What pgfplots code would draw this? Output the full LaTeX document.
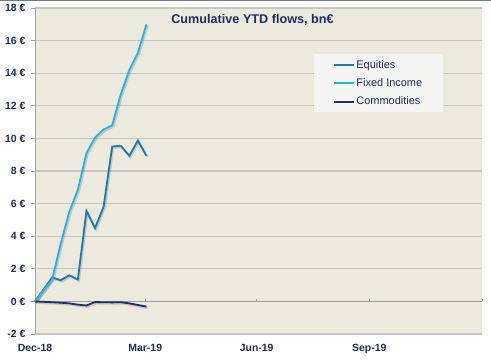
\documentclass[border=0pt]{standalone}
\usepackage{pgfplots}
\pgfplotsset{compat=1.18}
\usepackage{fontspec}
\setmainfont{Liberation Sans}
\newcommand{\eur}{\char"20AC\relax}
\definecolor{navy}{RGB}{31,45,92}
\definecolor{equ}{RGB}{30,122,172}
\definecolor{fix}{RGB}{34,182,228}
\definecolor{com}{RGB}{32,48,102}
\definecolor{bg}{RGB}{236,233,223}
\definecolor{gridc}{RGB}{200,198,190}
\definecolor{legbg}{RGB}{245,245,243}
\definecolor{topbar}{RGB}{112,125,150}
\pgfplotstableread{
d eq fi co
0 0 0 0
14 1.47 1.35 -0.05
21 1.30 3.55 -0.08
28 1.60 5.50 -0.12
35 1.35 6.85 -0.20
42 5.55 9.10 -0.25
49 4.50 10.05 -0.04
56 5.80 10.55 -0.05
63 9.50 10.80 -0.06
70 9.55 12.70 -0.05
77 8.93 14.20 -0.12
84 9.87 15.25 -0.22
91 8.93 17.00 -0.32
}\flows
\begin{document}
\begin{tikzpicture}[x=1bp,y=1bp]
\useasboundingbox (0,0) rectangle (491,359);
\fill[white] (0,0) rectangle (491,359);
\fill[topbar] (0,357.6) rectangle (491,359);
\begin{axis}[
 at={(35bp,25bp)}, anchor=south west,
 scale only axis, width=447bp, height=326bp,
 xmin=0, xmax=365, ymin=-2, ymax=18,
 axis background/.style={fill=bg},
 axis x line*=bottom, axis y line*=left,
 x axis line style={draw=none},
 y axis line style={draw=gray!70, line width=1bp},
 ymajorgrids, grid style={gridc, line width=1.3bp},
 ytick={-2,0,...,18},
 xtick={0,90,181,273},
 xticklabels={Dec-18,Mar-19,Jun-19,Sep-19},
 xtick style={draw=none},
 ytick style={draw=gray!70, line width=0.8bp},
 tick align=outside, major tick length=4bp,
 /pgf/number format/assume math mode=true,
 ticklabel style={font=\bfseries\fontsize{10.5}{12}\selectfont, text=navy},
 yticklabel={\pgfmathprintnumber{\tick}\kern0.28em\eur},
 yticklabel style={xshift=-2bp},
 xticklabel style={yshift=-3bp},
 legend style={at={(0.624,0.859)}, anchor=north west, fill=legbg, draw=none,
   font=\fontsize{11}{13}\selectfont, text=navy, inner xsep=18.5bp, inner ysep=4bp,
   row sep=5bp},
 legend cell align=left,
 legend image code/.code={\draw[#1] (0bp,0bp) -- (20bp,0bp);},
 clip=false,
]
\draw[gray!75, line width=0.9bp] (axis cs:0,0) -- (axis cs:365,0);
\pgfplotsinvokeforeach{90,181,273,365}{\draw[gray!75, line width=0.6bp] (axis cs:#1,0) -- ([yshift=2.5bp]axis cs:#1,0);}
\addplot[forget plot, draw=black, opacity=0.15, line width=2bp, xshift=1.2bp, yshift=-1.4bp] table[x=d,y=co] {\flows};
\addplot[forget plot, draw=black, opacity=0.15, line width=2bp, xshift=1.2bp, yshift=-1.4bp] table[x=d,y=eq] {\flows};
\addplot[forget plot, draw=black, opacity=0.15, line width=2bp, xshift=1.2bp, yshift=-1.4bp] table[x=d,y=fi] {\flows};
\addplot[equ, line width=1.8bp] table[x=d,y=eq] {\flows};
\addlegendentry{Equities}
\addplot[fix, line width=1.8bp] table[x=d,y=fi] {\flows};
\addlegendentry{Fixed Income}
\addplot[com, line width=1.8bp] table[x=d,y=co] {\flows};
\addlegendentry{Commodities}
\end{axis}
\node[font=\bfseries\fontsize{12.7}{15}\selectfont, text=navy] at (252.5,339) {Cumulative YTD flows, bn\eur};
\end{tikzpicture}
\end{document}
